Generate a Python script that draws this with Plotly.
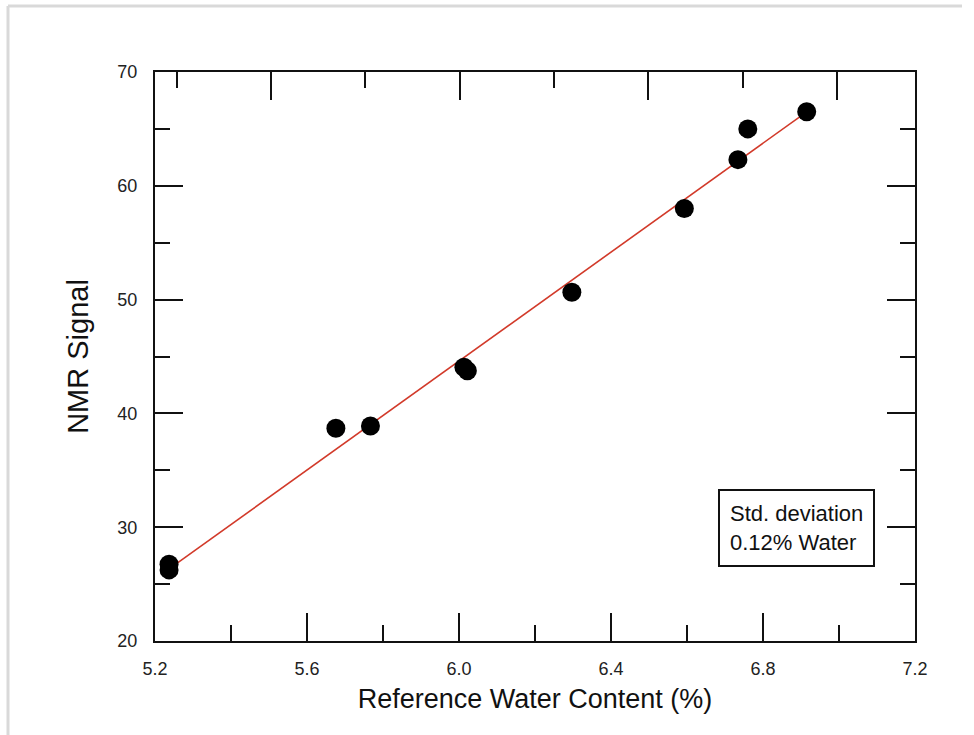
import plotly.graph_objects as go

# Data
water = [5.237, 5.237, 5.676, 5.767, 6.013, 6.022, 6.297, 6.593, 6.734, 6.760, 6.915]
nmr = [26.25, 26.75, 38.7, 38.9, 44.05, 43.75, 50.65, 58.0, 62.3, 65.0, 66.5]
fit_x = [5.24, 6.915]
fit_y = [26.4, 66.5]

x_range = [5.2, 7.2]
y_range = [20, 70]
top_range = [-0.6147, 3.413]

FONT = "Liberation Sans"
BLACK = "#111111"

fig = go.Figure()
fig.add_trace(go.Scatter(x=fit_x, y=fit_y, mode="lines",
                         line=dict(color="#d23a2a", width=1.6),
                         showlegend=False, hoverinfo="skip"))
fig.add_trace(go.Scatter(x=water, y=nmr, mode="markers",
                         marker=dict(color="black", size=19),
                         showlegend=False))
# helper traces so the overlay axes get drawn
fig.add_trace(go.Scatter(x=[None], y=[None], xaxis="x2", yaxis="y",
                         showlegend=False, hoverinfo="skip"))
fig.add_trace(go.Scatter(x=[None], y=[None], xaxis="x", yaxis="y2",
                         showlegend=False, hoverinfo="skip"))

tickfont = dict(family=FONT, size=18, color="#222222")

fig.update_layout(
    width=974, height=735,
    margin=dict(l=155, r=59, t=72, b=94),
    paper_bgcolor="white", plot_bgcolor="white",
    xaxis=dict(range=x_range, showgrid=False, zeroline=False,
               showline=True, linecolor=BLACK, linewidth=2,
               ticks="inside", ticklen=28, tickwidth=2, tickcolor=BLACK,
               tick0=5.2, dtick=0.4, tickformat=".1f",
               tickfont=tickfont, ticklabelstandoff=10,
               minor=dict(ticks="inside", ticklen=16, tickwidth=2,
                          tickcolor=BLACK, dtick=0.2, showgrid=False),
               title=dict(text="Reference Water Content (%)",
                          font=dict(family=FONT, size=27, color=BLACK),
                          standoff=12)),
    xaxis2=dict(range=top_range, overlaying="x", side="top", anchor="y",
                showgrid=False, zeroline=False, showline=True,
                linecolor=BLACK, linewidth=2, showticklabels=False,
                ticks="inside", ticklen=28, tickwidth=2, tickcolor=BLACK,
                tick0=0, dtick=1,
                minor=dict(ticks="inside", ticklen=16, tickwidth=2,
                           tickcolor=BLACK, dtick=0.5, showgrid=False)),
    yaxis=dict(range=y_range, showgrid=False, zeroline=False,
               showline=True, linecolor=BLACK, linewidth=2,
               ticks="inside", ticklen=28, tickwidth=2, tickcolor=BLACK,
               tick0=20, dtick=10, tickfont=tickfont, ticklabelstandoff=12,
               minor=dict(ticks="inside", ticklen=15, tickwidth=2,
                          tickcolor=BLACK, dtick=5, showgrid=False),
               title=dict(text="NMR Signal",
                          font=dict(family=FONT, size=29, color=BLACK),
                          standoff=20)),
    yaxis2=dict(range=y_range, overlaying="y", side="right", anchor="x",
                showgrid=False, zeroline=False, showline=True,
                linecolor=BLACK, linewidth=2, showticklabels=False,
                ticks="inside", ticklen=28, tickwidth=2, tickcolor=BLACK,
                tick0=20, dtick=10,
                minor=dict(ticks="inside", ticklen=15, tickwidth=2,
                           tickcolor=BLACK, dtick=5, showgrid=False)),
    annotations=[dict(
        x=6.889, y=29.97, xref="x", yref="y",
        text="Std. deviation<br>0.12% Water", showarrow=False,
        align="left", font=dict(family=FONT, size=22, color=BLACK),
        bordercolor=BLACK, borderwidth=2, borderpad=10, bgcolor="white")],
    shapes=[
        dict(type="line", xref="paper", yref="paper",
             x0=(8 - 155) / 760, x1=(962 - 155) / 760,
             y0=(641 - 6) / 569, y1=(641 - 6) / 569,
             line=dict(color="#d9d9d9", width=3), layer="below"),
        dict(type="line", xref="paper", yref="paper",
             x0=(8 - 155) / 760, x1=(8 - 155) / 760,
             y0=(641 - 6) / 569, y1=(641 - 740) / 569,
             line=dict(color="#d9d9d9", width=3), layer="below"),
    ],
)

fig.write_html("out.html")
